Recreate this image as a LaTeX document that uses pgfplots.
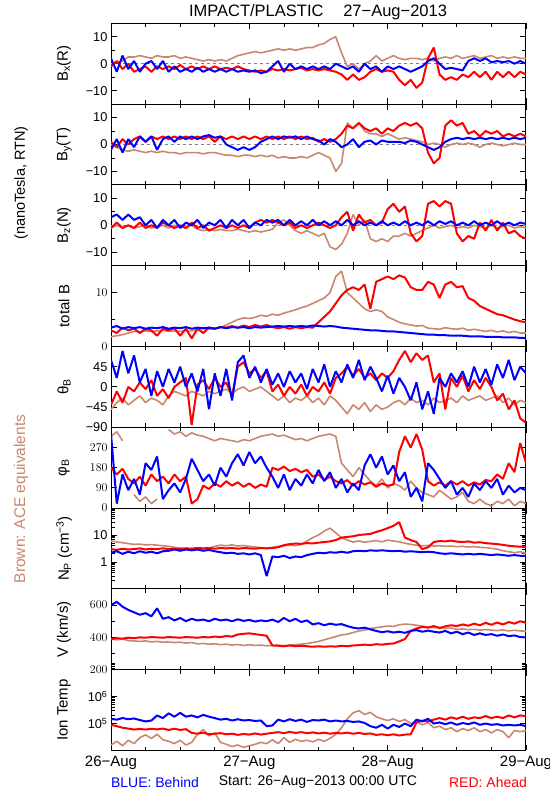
\documentclass[border=0pt]{standalone}
\usepackage{pgfplots}
\usepackage{pgfplotstable}
\pgfplotsset{compat=1.18}
\usepackage{fontspec}
\setmainfont{Liberation Sans}
\definecolor{ace}{RGB}{200,135,110}
\definecolor{rd}{RGB}{255,0,0}
\definecolor{bl}{RGB}{0,0,255}

\pgfplotstableread{
h r b a
0 -1 2 0
1 1 -3 0.5
2 -2 3 1
3 0 -2 2.5
4 -3 1 2.5
5 -2 -3 3
6 -1 0 2.5
7 -3 1 2
8 -1 -2 3
9 -2 1 2.5
10 -1 -3 2.5
11 -2 -1 3
12 -0.5 -3 2
13 -2 -2 2.5
14 -1 -3 2
15 -2 -1.5 1.5
16 -1 -3 1
17 -2 -2 1.5
18 -1 -3 1
19 -2 -2 1.5
20 -1.5 -3 1
21 -2 -2 2
22 -1 -3 3
23 -2 -2.5 3.5
24 -2.5 -3 4
25 -3 -2.5 4.5
26 -2.5 -3.5 4
27 -3 -3 4.5
28 -2 -1 5
29 -2.5 1 5.5
30 -2 -3 5
31 -2.5 0 5.5
32 -2 -2 5
33 -1.5 -1 5.5
34 -2.5 -2 6
35 -2 -1 6
36 -2.5 -2 7
37 -2 -1 7.5
38 -2.5 -2 9
39 -3 0 10
40 -4 -1 4
41 -6 -2 -1
42 -4 -1 0
43 -6 -3 -2
44 -5 0 0
45 -3 -2 1
46 -2 -1 3
47 -3 -3 1
48 -2.5 -1 2
49 -3 -2 3
50 -6 -1 2
51 -8 -2 1.5
52 -6 -3 2
53 -9 -2 2
54 -7 -1 1.5
55 2 1 2
56 6 2 1
57 -4 0 2
58 -6 -2 2.5
59 -5 -1.5 2
60 -6 -2 3
61 -4 -2.5 2
62 -5 1 2.5
63 -3 2 3
64 -5 1 2
65 -3 2 2.5
66 -6 0.5 3
67 -3 1 2
68 -5 0.5 2.5
69 -3 1 2
70 -5 0 2.5
71 -3 1 2
72 -4 0 2
}\tBx

\pgfplotstableread{
h r b a
0 1 -2 0
1 -1 2 -1
2 2 -3 -2
3 0 2 -2.5
4 2 -1 -2
5 3 3 -2.5
6 1 1 -3
7 3 3 -2.5
8 2 -2 -3
9 3 2 -2.5
10 2 3 -3
11 3 1 -3
12 2 3 -3.5
13 3 2 -3
14 2 3 -3
15 3 2 -3
16 2 3 -3.5
17 3 3.5 -3
18 1 2.5 -3
19 3 3 -3.5
20 2 0 -4
21 3 -1 -4
22 2 -2 -4.5
23 3 -1 -4
24 2 -2 -4
25 3 -1 -4.5
26 2 1 -4
27 3 2 -4.5
28 2 3 -4
29 3 2 -5
30 2 3 -4.5
31 3 2.5 -5
32 2 3 -5
33 3 2 -4.5
34 2 3 -5
35 2.5 2 -4
36 1 1.5 -3
37 2 0 -4
38 1 2 -5
39 2 1 -10
40 4 -1 -7
41 7 0 8
42 6 2 6
43 8 -1 8
44 6 1 5
45 5 1.5 4
46 6 0 4
47 4 1.5 3
48 6 1 4
49 5 1 3
50 7 1 2
51 8 0.5 2.5
52 7 1.5 2
53 8 1 1.5
54 6 0 1
55 -3 -1 0
56 -7 -2 0.5
57 -5 -1 0
58 7 1 -1
59 9 2 0
60 7 2.5 0.5
61 8 2 0
62 4 2.5 0.5
63 5 2 0
64 3 2.5 -1
65 5 2 0
66 4 2.5 0.5
67 5 2 0
68 3 2.5 -0.5
69 4 2 0
70 3 2.5 0.5
71 4 2 0
72 3 2.5 0
}\tBy

\pgfplotstableread{
h r b a
0 -1 3 -1
1 1 4 0
2 -1 2 -1
3 0 4 0
4 -1 2 -1
5 1 3 -0.5
6 -1 0 0
7 0 2 -1
8 -1 -1 -0.5
9 1 2 0
10 0 0 -1
11 -1 2 0
12 0 -1 -0.5
13 -1 1 -1
14 1 0 0
15 -1 2 -1.5
16 0 -1 -2
17 -2 1 -1.5
18 -1 0 -2
19 0 2 -1.5
20 -1 -1 -2
21 0 2 -2
22 -1 0 -1.5
23 0 2 -2
24 -1 -1 -2.5
25 1 1 -2
26 2 0 -2.5
27 1 2 -2
28 2 1 -1.5
29 1 2 1
30 0 0 2
31 1 2 0
32 -1 0 -2
33 0 1.5 -3
34 -1 0 -2
35 0 2 -3
36 1 0 -4
37 0 1.5 -3
38 -1 0 -8
39 0 1.5 -9
40 3 0 -7
41 5 2 -3
42 -2 0 4
43 4 1.5 0
44 1 0 2
45 2 1 -5
46 0 0 -6
47 1 1.5 -5
48 6 0 -6
49 8 1 -4
50 5 0 -4
51 7 1.5 -3
52 -3 0 -4
53 -6 1 -3
54 -4 0 -2
55 8 1.5 -1
56 9 0 0
57 7 1.5 -1
58 9 0.5 -0.5
59 8 1.5 0
60 -3 0 -1
61 -6 1 -0.5
62 -4 0 -1
63 -5 1.5 0
64 1 0 -0.5
65 -2 1 -1
66 2 0 0
67 -2 1.5 -1
68 1 0 -0.5
69 -3 1 0
70 -2 0 -1
71 -4 1 -0.5
72 -5 0.5 -1
}\tBz

\pgfplotstableread{
h r b a
0 3 3.5 1.8
1 2.5 3.8 2
2 3.5 3.3 2.2
3 3 3.6 2.5
4 3.3 3.4 2.8
5 2.5 3.6 2.7
6 3.3 3.3 2.9
7 3 3.5 2.8
8 2 3.4 2.9
9 3.3 3.6 3
10 3 3.3 2.8
11 3.4 3.5 2.9
12 2 3.4 2.8
13 3.3 3.6 3
14 1.5 3.3 2.9
15 3.3 3.5 3.2
16 2.5 3.4 3.3
17 3.5 3.5 3.2
18 3.3 3.3 3.4
19 3.6 3.6 3.5
20 3.5 3.4 4
21 3.8 3.6 4.5
22 3.5 3.5 5
23 3.9 3.6 5.3
24 3.6 3.4 5.2
25 4 3.6 5.4
26 3.7 3.5 5.8
27 4 3.6 5.6
28 3.6 3.7 6
29 3.4 3.8 5.8
30 3.6 3.7 6.2
31 3.3 3.8 6.5
32 3.6 3.7 6.8
33 3.4 3.8 7.2
34 3.6 3.7 7.5
35 3.5 3.9 8
36 4.5 3.8 8.5
37 5.5 3.7 9
38 6.5 3.8 10
39 8 3.7 13
40 9.5 3.5 14
41 10.5 3.4 10
42 11 3.3 9
43 10.5 3.2 8
44 11.5 3.1 7
45 7 3 6.5
46 12 3 6.8
47 12.5 2.9 6.5
48 13 2.8 5.5
49 12.5 2.8 5
50 13.2 2.7 4.5
51 12.8 2.6 4.2
52 11 2.5 4
53 10.5 2.4 3.8
54 10.5 2.3 3.9
55 12 2.2 3.4
56 11.5 2.2 3.3
57 9 2.1 3.2
58 11.5 2.1 3.5
59 12 2 3.3
60 11 2 3.2
61 11.2 2 3.4
62 9 1.9 3
63 8.5 1.9 3.2
64 7.5 1.9 3
65 7 1.8 2.8
66 6.5 1.8 3
67 6 1.8 2.7
68 5.8 1.7 2.9
69 5.4 1.7 2.6
70 5 1.7 2.8
71 4.7 1.6 2.5
72 4.5 1.6 2.5
}\tBt

\pgfplotstableread{
h r b a
0 -40 60 -50
1 -10 20 -35
2 -35 80 -25
3 0 30 -40
4 -10 70 -30
5 10 10 -20
6 -5 40 -35
7 15 -20 -25
8 -20 35 -30
9 -5 0 -40
10 -25 40 -20
11 0 10 -10
12 10 45 -15
13 20 0 -20
14 -85 30 -10
15 5 -10 -15
16 15 40 -20
17 -5 -50 -10
18 20 30 -15
19 0 -20 -10
20 10 40 -5
21 -20 -30 -15
22 45 55 -5
23 55 70 0
24 30 20 -10
25 40 45 -5
26 20 10 0
27 35 40 -10
28 -10 5 -20
29 5 30 -30
30 -20 0 -20
31 0 35 -35
32 -15 10 -25
33 5 30 -30
34 -20 -5 -20
35 0 40 -35
36 -10 10 -25
37 10 50 -40
38 -15 0 -20
39 20 35 -30
40 30 10 -45
41 45 50 -60
42 25 20 -40
43 40 60 -50
44 20 15 -35
45 30 45 -55
46 15 20 -40
47 30 -10 -50
48 20 25 -45
49 35 -15 -35
50 60 20 -30
51 80 0 -40
52 55 -30 -25
53 75 10 -35
54 60 -50 -30
55 70 -10 -40
56 10 -60 -25
57 30 20 -35
58 -50 0 -30
59 20 30 -25
60 0 10 -35
61 25 35 -20
62 -10 0 -30
63 15 45 -25
64 -5 10 -20
65 20 40 -30
66 0 5 -25
67 -30 50 -20
68 -15 20 -35
69 -50 60 -25
70 -30 15 -40
71 -70 45 -30
72 -80 30 -35
}\tTh

\pgfplotstableread{
h r b a
0 180 330 320
1 150 20 340
2 175 150 300
3 130 80 nan
4 110 130 60
5 140 60 30
6 100 200 50
7 150 170 20
8 120 230 40
9 140 40 nan
10 110 80 350
11 150 110 330
12 120 70 340
13 140 130 320
14 20 220 335
15 40 170 325
16 100 120 320
17 85 150 310
18 110 100 300
19 95 180 310
20 120 140 305
21 100 200 300
22 115 240 295
23 95 190 305
24 110 250 300
25 90 200 310
26 105 230 320
27 95 180 325
28 180 140 330
29 170 90 320
30 185 150 325
31 165 80 315
32 175 130 305
33 160 100 310
34 170 150 300
35 140 110 310
36 150 170 320
37 125 120 325
38 140 160 330
39 120 90 320
40 110 130 200
41 125 70 170
42 100 110 140
43 120 80 180
44 105 190 150
45 115 240 120
46 95 180 100
47 110 230 130
48 100 150 90
49 105 190 110
50 250 120 100
51 320 160 80
52 270 50 120
53 330 90 90
54 260 30 70
55 120 200 60
56 100 170 50
57 115 130 80
58 100 90 60
59 120 120 40
60 105 60 50
61 120 90 70
62 100 50 30
63 115 110 20
64 105 80 40
65 125 120 20
66 120 90 10
67 150 130 30
68 130 60 20
69 200 100 40
70 160 70 10
71 290 90 30
72 200 80 20
}\tPh

\pgfplotstableread{
h r b a
0 3 2.2 6
1 2.8 2.5 5.5
2 3.1 2 5.2
3 2.9 2.4 4.8
4 3 2.1 4.5
5 3.2 2.5 4.6
6 2.9 2.2 4.3
7 3.1 2.4 4.4
8 3 2.1 4.2
9 3.2 2.5 4
10 3 2.6 3.8
11 3.1 2.9 3.5
12 3 2.6 3.3
13 3.2 2.9 3.2
14 3.1 2.7 3.1
15 3.3 2.9 3.3
16 3.2 2.6 3.1
17 3.3 2.8 3.3
18 3.1 2.5 3.8
19 3.3 2.3 4.2
20 3.2 2.1 4
21 3.3 2.2 4.3
22 3.1 2 3.9
23 3.3 2.1 4.1
24 3.2 1.9 3.8
25 3.1 2.1 3.6
26 3.3 1.8 3.4
27 3.2 0.3 3.2
28 3.3 1.6 3.5
29 3.5 1.5 3.8
30 4.2 1.7 4
31 4.6 1.4 4.2
32 4.8 1.6 4
33 4.7 1.5 4.5
34 5 1.8 6
35 4.9 2 8
36 5.2 2.2 10
37 5.5 2.1 14
38 5.8 2.3 18
39 6.5 2.2 12
40 8 2.4 8
41 8.5 2.2 6.5
42 9 2.5 5.5
43 10 2.6 6
44 10.5 2.5 5.4
45 11 2.7 5.8
46 13 2.6 6.2
47 15 2.7 5.6
48 18 2.6 6.5
49 22 2.5 6
50 30 2.6 5.6
51 8 2.4 5
52 6.5 2.5 4.5
53 5.5 2.4 4.2
54 3 2.3 4
55 3.5 2.4 4.1
56 5.5 2.3 3.9
57 6 2.1 4
58 5.8 2 3.8
59 6.2 2.1 3.9
60 5.7 2 3.7
61 5.5 1.9 3.8
62 5.8 2 3.6
63 5.2 1.9 3.7
64 5.4 2 3.5
65 5 1.9 3.4
66 4.8 1.8 3.2
67 4.6 1.9 3
68 4.3 1.8 2.6
69 4 1.7 2.4
70 3.8 1.8 2.2
71 3.7 1.7 2.4
72 3.6 1.7 2.1
}\tNp

\pgfplotstableread{
h r b a
0 390 600 390
1 395 620 385
2 392 590 390
3 398 570 380
4 395 555 378
5 400 540 375
6 398 550 378
7 402 530 372
8 400 580 375
9 398 515 370
10 402 525 372
11 400 505 368
12 398 520 370
13 402 500 365
14 400 515 368
15 398 505 360
16 402 510 362
17 400 500 358
18 405 515 360
19 402 505 355
20 408 510 358
21 405 500 352
22 418 512 356
23 422 502 350
24 425 508 355
25 420 498 350
26 415 505 352
27 410 500 348
28 350 510 350
29 348 495 352
30 345 520 348
31 350 500 352
32 345 515 355
33 348 495 358
34 345 505 362
35 342 480 368
36 345 488 375
37 342 475 385
38 345 485 395
39 343 478 405
40 348 482 415
41 345 470 420
42 350 460 430
43 352 455 440
44 355 460 445
45 352 450 455
46 358 440 460
47 355 432 465
48 360 438 470
49 362 430 468
50 375 435 478
51 390 428 482
52 440 440 480
53 455 445 475
54 465 435 470
55 460 442 465
56 470 435 460
57 458 430 462
58 468 440 455
59 475 425 458
60 470 435 450
61 480 420 452
62 472 430 448
63 485 415 450
64 475 425 445
65 490 415 448
66 478 420 445
67 492 410 442
68 480 418 446
69 495 408 440
70 485 412 444
71 500 402 440
72 490 400 438
}\tV

\pgfplotstableread{
h r b a
0 9e4 1.5e5 1.6e4
1 8e4 1.4e5 2.2e4
2 7e4 1.6e5 1.5e4
3 6.5e4 1.45e5 2.4e4
4 6e4 1.55e5 1.8e4
5 6.3e4 1.35e5 3e4
6 6e4 1.2e5 3.8e4
7 6.4e4 1.3e5 2.8e4
8 6.1e4 2e5 4e4
9 6.5e4 1.6e5 2.5e4
10 5.8e4 2.4e5 2.2e4
11 6.4e4 1.8e5 1.8e4
12 5.8e4 2.5e5 2.4e4
13 6.2e4 1.8e5 1.6e4
14 4.5e4 2e5 2e4
15 4.2e4 1.7e5 4e4
16 4.6e4 2.1e5 6e4
17 4e4 1.8e5 3.5e4
18 4.2e4 1.6e5 4.5e4
19 4.4e4 1.4e5 2e4
20 4e4 1.5e5 1.7e4
21 4.2e4 1.3e5 1.4e4
22 3.8e4 1.45e5 1.6e4
23 4.1e4 1.3e5 1.3e4
24 3.9e4 1.35e5 1.5e4
25 4.3e4 1.25e5 1.7e4
26 3.9e4 1.3e5 2e4
27 4.2e4 8e4 1.8e4
28 4.5e4 8.5e4 2.5e4
29 4.8e4 1.4e5 1.8e4
30 4.4e4 1.2e5 3e4
31 4.9e4 1.45e5 2e4
32 4.5e4 1.25e5 2.6e4
33 4.8e4 1.4e5 2.2e4
34 4.4e4 1.15e5 2.4e4
35 4.7e4 1.35e5 2.1e4
36 4.3e4 1.3e5 2.6e4
37 4.6e4 1.4e5 2.2e4
38 4.2e4 1.2e5 2.8e4
39 4.5e4 1.3e5 4e4
40 4.3e4 1.2e5 7e4
41 4.6e4 1.25e5 1.5e5
42 4.2e4 1.15e5 2.5e5
43 4.5e4 1.2e5 3e5
44 4.1e4 1.05e5 2.2e5
45 4.3e4 8e4 2.6e5
46 3.8e4 7e4 1.8e5
47 4e4 9e4 1.5e5
48 3.7e4 6.5e4 1.3e5
49 4e4 9e4 1.5e5
50 3.6e4 7.5e4 1.2e5
51 3.9e4 1e5 1.4e5
52 4e4 8e4 1e5
53 1.1e5 1.4e5 1.2e5
54 1.3e5 1.2e5 9e4
55 1.2e5 1.5e5 1.1e5
56 1.4e5 1e5 7e4
57 1.6e5 1.1e5 8e4
58 1.4e5 9.5e4 6e4
59 1.7e5 1.1e5 7e4
60 1.5e5 9e4 5e4
61 1.8e5 1.05e5 6.5e4
62 1.5e5 9.5e4 5.5e4
63 1.7e5 1.1e5 7e4
64 1.6e5 9e4 5e4
65 1.9e5 1e5 6e4
66 1.6e5 9e4 4.5e4
67 1.8e5 9.5e4 6e4
68 1.6e5 8.5e4 5e4
69 2e5 9e4 3e4
70 1.7e5 8.5e4 5.5e4
71 2e5 9e4 5e4
72 1.9e5 8e4 5.5e4
}\tT

\pgfplotsset{
  panel/.style={
    scale only axis, width=415bp, height=80.8bp, anchor=south west,
    xmin=0, xmax=72, xtick={0,24,48,72},
    minor xtick={6,12,18,30,36,42,54,60,66},
    xticklabels={},
    tick align=inside, major tick length=6bp, minor tick length=4bp,
    axis line style={line width=1bp},
    every tick/.style={black, line width=0.8bp},
    ylabel style={at={(axis description cs:-0.113,0.5)}, anchor=center,
      font=\fontsize{15bp}{15bp}\selectfont},
    yticklabel style={font=\fontsize{12.8bp}{13bp}\selectfont},
    unbounded coords=jump,
  },
  srA/.style={ace, line width=1.6bp, line join=bevel},
  srR/.style={rd, line width=2bp, line join=bevel},
  srB/.style={bl, line width=2bp, line join=bevel},
}

\begin{document}
\begin{tikzpicture}
\useasboundingbox (0,0) rectangle (550bp,800bp);

% Bx
\begin{axis}[panel, at={(111bp,695.9bp)}, ymin=-15, ymax=15,
  ytick={-10,0,10}, yticklabels={−10,0,10}, minor ytick={-5,5},
  ylabel={B\textsubscript{x}(R)}]
\addplot[gray, dashed, line width=0.8bp] coordinates {(0,0) (72,0)};
\addplot[srA] table[x=h,y=a]{\tBx};
\addplot[srR] table[x=h,y=r]{\tBx};
\addplot[srB] table[x=h,y=b]{\tBx};
\end{axis}

% By
\begin{axis}[panel, at={(111bp,615.1bp)}, ymin=-15, ymax=15,
  ytick={-10,0,10}, yticklabels={−10,0,10}, minor ytick={-5,5},
  ylabel={B\textsubscript{y}(T)}]
\addplot[gray, dashed, line width=0.8bp] coordinates {(0,0) (72,0)};
\addplot[srA] table[x=h,y=a]{\tBy};
\addplot[srR] table[x=h,y=r]{\tBy};
\addplot[srB] table[x=h,y=b]{\tBy};
\end{axis}

% Bz
\begin{axis}[panel, at={(111bp,534.3bp)}, ymin=-15, ymax=15,
  ytick={-10,0,10}, yticklabels={−10,0,10}, minor ytick={-5,5},
  ylabel={B\textsubscript{z}(N)}]
\addplot[gray, dashed, line width=0.8bp] coordinates {(0,0) (72,0)};
\addplot[srA] table[x=h,y=a]{\tBz};
\addplot[srR] table[x=h,y=r]{\tBz};
\addplot[srB] table[x=h,y=b]{\tBz};
\end{axis}

% total B
\begin{axis}[panel, at={(111bp,453.5bp)}, ymin=0, ymax=15,
  ytick={0,10}, minor ytick={5},
  ylabel={total B}]
\addplot[srA] table[x=h,y=a]{\tBt};
\addplot[srR] table[x=h,y=r]{\tBt};
\addplot[srB] table[x=h,y=b]{\tBt};
\end{axis}

% theta
\begin{axis}[panel, at={(111bp,372.7bp)}, ymin=-90, ymax=90,
  ytick={-90,-45,0,45}, yticklabels={−90,−45,0,45},
  ylabel={θ\textsubscript{B}}]
\addplot[srA] table[x=h,y=a]{\tTh};
\addplot[srR] table[x=h,y=r]{\tTh};
\addplot[srB] table[x=h,y=b]{\tTh};
\end{axis}

% phi
\begin{axis}[panel, at={(111bp,291.9bp)}, ymin=0, ymax=360,
  ytick={0,90,180,270},
  ylabel={φ\textsubscript{B}}]
\addplot[srA] table[x=h,y=a]{\tPh};
\addplot[srR] table[x=h,y=r]{\tPh};
\addplot[srB] table[x=h,y=b]{\tPh};
\end{axis}

% Np
\begin{axis}[panel, at={(111bp,211.1bp)}, ymode=log, ymin=0.1, ymax=100,
  ytick={1,10}, yticklabels={1,10},
  minor ytick={0.2,0.3,0.4,0.5,0.6,0.7,0.8,0.9,2,3,4,5,6,7,8,9,20,30,40,50,60,70,80,90},
  ylabel={N\textsubscript{P} (cm\textsuperscript{−3})}]
\addplot[srA] table[x=h,y=a]{\tNp};
\addplot[srR] table[x=h,y=r]{\tNp};
\addplot[srB] table[x=h,y=b]{\tNp};
\end{axis}

% V
\begin{axis}[panel, at={(111bp,130.3bp)}, ymin=200, ymax=700,
  ytick={200,400,600}, minor ytick={210,220,230,240,300,500},
  ylabel={V (km/s)}]
\addplot[srA] table[x=h,y=a]{\tV};
\addplot[srR] table[x=h,y=r]{\tV};
\addplot[srB] table[x=h,y=b]{\tV};
\end{axis}

% Ion Temp
\begin{axis}[panel, at={(111bp,49.5bp)}, ymode=log, ymin=1e4, ymax=1e7,
  ytick={1e5,1e6}, yticklabels={10\textsuperscript{5},10\textsuperscript{6}},
  xticklabels={26−Aug,27−Aug,28−Aug,29−Aug},
  xticklabel style={font=\fontsize{15bp}{15bp}\selectfont, yshift=-2bp},
  ylabel={Ion Temp}]
\addplot[srA] table[x=h,y=a]{\tT};
\addplot[srR] table[x=h,y=r]{\tT};
\addplot[srB] table[x=h,y=b]{\tT};
\end{axis}

\node[font=\fontsize{16.5bp}{17bp}\selectfont] at (318bp,788bp) {IMPACT/PLASTIC\hspace{1.2em}27−Aug−2013};
\node[rotate=90, font=\fontsize{14.5bp}{15bp}\selectfont] at (21bp,617bp) {(nanoTesla,\ RTN)};
\node[rotate=90, text=ace, font=\fontsize{15.5bp}{16bp}\selectfont] at (21bp,301bp) {Brown: ACE equivalents};
\node[text=bl, font=\fontsize{14bp}{14bp}\selectfont] at (155bp,18bp) {BLUE: Behind};
\node[font=\fontsize{14bp}{14bp}\selectfont] at (318bp,18bp) {Start: 26−Aug−2013 00:00 UTC};
\node[text=rd, font=\fontsize{14bp}{14bp}\selectfont] at (488bp,18bp) {RED: Ahead};
\end{tikzpicture}
\end{document}
